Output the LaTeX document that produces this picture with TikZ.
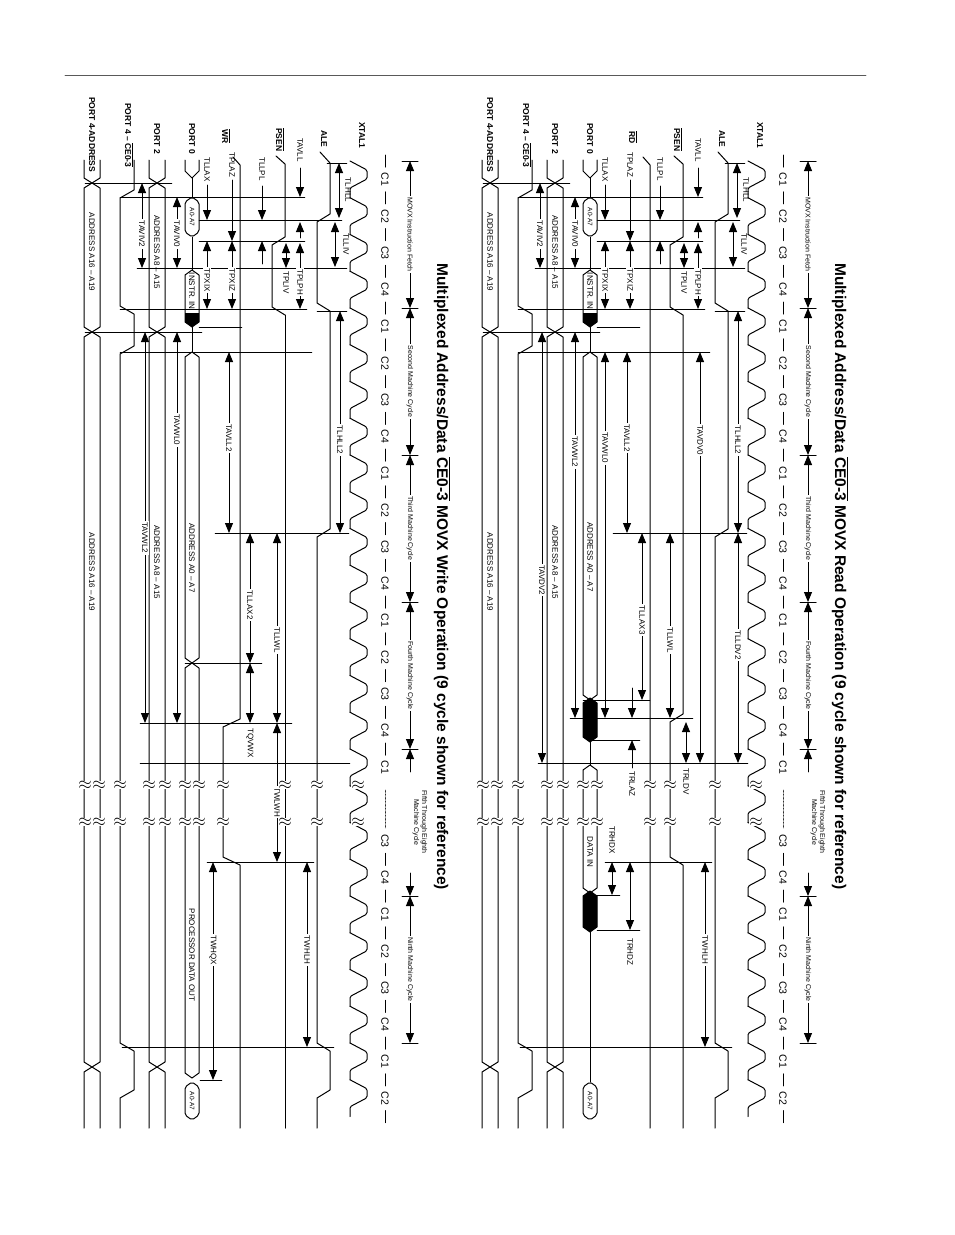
\documentclass[tikz,border=0pt]{standalone}
\usepackage{fontspec}
\setmainfont{Liberation Sans}
\usetikzlibrary{arrows.meta}
\newcommand\busseg[5][]{\draw[sig,#1] (#2,#4) -- ({#2-#3},{#4+5}) -- ({#2-#3},{#5-5}) -- (#2,#5) -- ({#2+#3},{#5-5}) -- ({#2+#3},{#4+5}) -- cycle;}
\newcommand\brkmark[1]{\node[fill=white,inner sep=0pt,font=\LARGE] at (#1,785) {$\approx$};\node[fill=white,inner sep=0pt,font=\LARGE] at (#1,822) {$\approx$};}
\newcommand\panelcommon[1]{%
 \node[ttl] at (840,263) {Multiplexed Address/Data $\overline{\mbox{CE0-3}}$ MOVX #1 Operation (9 cycle shown for reference)};
 \foreach \b in {161,308,455,602,749,896,1043} \draw[sig] (800,\b) -- (816,\b);
 \draw[dbl] (808,161) -- (808,308); \node[mlab,fill=white] at (808,234.5) {MOVX Instruction Fetch};
 \draw[dbl] (808,308) -- (808,455); \node[mlab,fill=white] at (808,381.5) {Second Machine Cycle};
 \draw[dbl] (808,455) -- (808,602); \node[mlab,fill=white] at (808,528.5) {Third Machine Cycle};
 \draw[dbl] (808,602) -- (808,749); \node[mlab,fill=white] at (808,675.5) {Fourth Machine Cycle};
 \draw[arrd] (808,772) -- (808,749); \draw[arrd] (808,873) -- (808,896);
 \node[mlab,align=center] at (818,822) {Fifth Through Eighth\\Machine Cycle};
 \draw[dbl] (808,896) -- (808,1043); \node[mlab,fill=white] at (808,969.5) {Ninth Machine Cycle};
 \foreach \k in {0,...,25}{\ifnum\k=17\else\pgfmathtruncatemacro\cc{mod(\k,4)+1}\pgfmathsetmacro\yy{161+36.75*(\k+0.5)}\node[clab] at (783,\yy) {C\cc};\fi}
 \foreach \k in {0,...,16,19,20,21,22,23,24,25,26}{\pgfmathsetmacro\yy{161+36.75*\k}\draw[sig] (783,\yy-6) -- (783,\yy+6);}
 \draw[densely dotted] (783,790) -- (783,828);
 \foreach \k in {0,...,25}{\pgfmathsetmacro\yy{161+36.75*\k}\draw[sig,rounded corners=1.5pt] (748,\yy) -- ++(17,9) -- ++(0,9) -- ++(-17,9) -- ++(0,9.75);}
 % signal labels
 \node[slab] at (760,122) {XTAL1};
 \node[slab] at (722,130) {ALE};
 \node[slab] at (678,128) {$\overline{\mbox{PSEN}}$};
 \node[slab] at (590,123) {PORT 0};
 \node[slab] at (555,123) {PORT 2};
 \node[slab] at (527,103) {PORT 4 -- $\overline{\mbox{CE0-3}}$};
 \node[slab] at (490,97) {PORT 4-ADDRESS};
 \node[tlabw] at (698,138) {TAVLL};
 \node[tlabw] at (660,157) {TLLPL};
 \node[tlabw] at (630,152) {TPLAZ};
 \node[tlabw] at (605,157) {TLLAX};
 % ALE
 \draw[sig] (718,152) -- (728,163) -- (728,214) -- (715,222) -- (715,303) -- (728,311) -- (728,529) -- (715,537) -- (715,1043) -- (728,1051) -- (728,1090) -- (715,1098) -- (715,1128);
 % PSEN
 \draw[sig] (674,156) -- (683,164) -- (683,237) -- (670,245) -- (670,307) -- (683,315);
 % CE
 \draw[sig] (532,160) -- (532,190) -- (518,198) -- (518,306) -- (532,314) -- (532,346) -- (518,354) -- (518,1043) -- (532,1051) -- (532,1090) -- (518,1098) -- (518,1128);
 % port4 addr
 \draw[sig] (482,160) -- (482,178) -- (490,183) -- (498,178) -- (498,160);
 \busseg{490}{8}{183}{332}\busseg{490}{8}{332}{1067}
 \draw[sig] (482,1128) -- (482,1072) -- (490,1067) -- (498,1072) -- (498,1128);
 \node[tlab] at (490,252) {ADDRESS A16 -- A19};
 \node[tlab] at (490,572) {ADDRESS A16 -- A19};
 % port2
 \draw[sig] (547,160) -- (547,178) -- (555,183) -- (563,178) -- (563,160);
 \busseg{555}{8}{183}{332}\busseg{555}{8}{332}{1067}
 \draw[sig] (547,1128) -- (547,1072) -- (555,1067) -- (563,1072) -- (563,1128);
 \node[tlab] at (555,252) {ADDRESS A8 -- A15};
 \node[tlab] at (555,562) {ADDRESS A8 -- A15};
 % port0 first part
 \draw[sig] (583,160) -- (583,171) -- (590,178) -- (597,171) -- (597,160);
 \draw[sig] (590,178) -- (590,197);
 \busseg[rounded corners=2pt]{590}{7}{197}{237}\node[tlab,font=\fontsize{6.5}{7}\selectfont] at (590,217) {A0-A7};
 \draw[sig] (590,237) -- (590,270);
 \busseg{590}{7}{270}{327}
 \fill (583,313) -- (597,313) -- (597,322) -- (590,327) -- (583,322) -- cycle;
 \node[tlab] at (590,291) {INSTR. IN};
 \draw[sig] (590,327) -- (590,352);
 % horizontal reference lines
 \draw (483,183) -- (570,183);
 \draw (518,197) -- (703,197);
 \draw (597,220) -- (740,220);
 \draw (597,241) -- (703,241);
 \draw (535,268) -- (745,268);
 \draw (518,309) -- (705,309);
 \draw (715,311) -- (745,311);
 \draw (597,327) -- (640,327);
 \draw (483,332) -- (600,332);
 \draw (518,352) -- (710,352);
 \draw (725,163) -- (745,163);
 \draw (613,533) -- (747,533);
 \draw (538,763) -- (748,763);
 \draw (605,862) -- (712,862);
 \draw (520,1047) -- (732,1047);
 % first cycle timing
 \draw[arrd] (698,168) -- (698,197);
 \draw[arrd] (698,238) -- (698,222);
 \draw[dbl] (737,163) -- (737,218); \node[tlab] at (746,190) {TLHLL};
 \draw[dbl] (733,222) -- (733,267); \node[tlab] at (744,244) {TLLIV};
 \draw[dbl] (698,243) -- (698,309); \node[tlab,fill=white] at (698,282) {TPLPH};
 \draw[dbl] (684,243) -- (684,268); \node[tlabw] at (684,271) {TPLIV};
 \draw[arrd] (660,186) -- (660,220); \draw[arrd] (660,264) -- (660,241);
 \draw[arrd] (630,180) -- (630,241);
 \draw[arrd] (605,185) -- (605,220);
 \draw[dbl] (605,241) -- (605,309); \node[tlab,fill=white] at (605,280) {TPXIX};
 \draw[dbl] (630,241) -- (630,309); \node[tlab,fill=white] at (630,280) {TPXIZ};
 \draw[dbl] (575,197) -- (575,268); \node[tlab,fill=white] at (575,234) {TAVIV0};
 \draw[dbl] (540,183) -- (540,268); \node[tlab,fill=white] at (540,234) {TAVIV2};
 % second cycle
 \draw[dbl] (738,311) -- (738,533); \node[tlab,fill=white] at (738,440) {TLHLL2};
 \draw[dbl] (627,352) -- (627,533); \node[tlab,fill=white] at (627,438) {TAVLL2};
 \draw[dbl] (705,862) -- (705,1047); \node[tlab,fill=white] at (705,950) {TWHLH};
}
\tikzset{
 sig/.style={line width=1pt},
 arrd/.style={line width=0.9pt,-{Triangle[length=10pt,width=8pt]}},
 dbl/.style={line width=0.9pt,{Triangle[length=10pt,width=8pt]}-{Triangle[length=10pt,width=8pt]}},
 tlab/.style={rotate=-90,font=\fontsize{8}{9}\selectfont,inner sep=1.5pt},
 tlabw/.style={tlab,anchor=west,inner sep=0pt},
 slab/.style={rotate=-90,anchor=west,font=\fontsize{8.5}{9}\selectfont\bfseries,inner sep=0pt},
 mlab/.style={rotate=-90,font=\fontsize{7}{8}\selectfont,inner sep=1.5pt},
 clab/.style={rotate=-90,font=\fontsize{10.5}{11}\selectfont,inner sep=0pt},
 ttl/.style={rotate=-90,anchor=west,font=\fontsize{15.5}{17}\selectfont\bfseries,inner sep=0pt},
}
\begin{document}
\begin{tikzpicture}[x=1pt,y=-1pt,line cap=round,line join=round]
\useasboundingbox[fill=white] (0,0) rectangle (954,1235);
\draw[gray!70!black,line width=0.8pt] (65,75) -- (866,75);
% ===== top panel: read =====
\begin{scope}
\panelcommon{Read}
\node[slab] at (633,131) {$\overline{\mbox{RD}}$};
\draw[sig] (643,157) -- (650,165) -- (650,1128);
\draw[sig] (683,315) -- (683,714) -- (670,722) -- (670,857) -- (683,865) -- (683,1128);
\busseg{590}{7}{352}{700}\node[tlab,anchor=west,inner sep=0pt] at (590,522) {ADDRESS A0 -- A7};
\busseg[fill=black]{590}{7}{698}{742}
\draw[sig] (590,742) -- (590,765);
\busseg{590}{7}{765}{893}\node[tlab] at (590,852) {DATA IN};
\busseg[fill=black]{590}{7}{891}{932}
\draw[sig] (590,932) -- (590,1082);
\busseg[rounded corners=2pt]{590}{7}{1082}{1120}\node[tlab,font=\fontsize{6.5}{7}\selectfont] at (590,1101) {A0-A7};
\draw[dbl] (700,352) -- (700,763); \node[tlab,fill=white] at (700,440) {TAVDV0};
\draw[dbl] (605,352) -- (605,718); \node[tlab,fill=white] at (605,448) {TAVWL0};
\draw[dbl] (575,332) -- (575,718); \node[tlab,fill=white] at (575,452) {TAVWL2};
\draw[dbl] (542,332) -- (542,763); \node[tlab,fill=white] at (542,580) {TAVDV2};
\draw (583,700) -- (650,700);
\draw (570,718) -- (693,718);
\draw (590,740) -- (640,740);
\draw[dbl] (642,533) -- (642,700); \node[tlab,fill=white] at (642,620) {TLLAX3};
\draw[dbl] (670,533) -- (670,718); \node[tlab,fill=white] at (670,640) {TLLWL};
\draw[dbl] (738,533) -- (738,763); \node[tlab,fill=white] at (738,645) {TLLDV2};
\draw[dbl] (686,722) -- (686,763); \node[tlabw] at (686,768) {TRLDV};
\draw[arrd] (632,688) -- (632,718); \draw[arrd] (632,768) -- (632,740); \node[tlabw] at (632,771) {TRLAZ};
\draw[dbl] (612,862) -- (612,895); \node[tlabw] at (612,826) {TRHDX};
\draw[dbl] (630,862) -- (630,930); \node[tlabw] at (630,938) {TRHDZ};
\draw (597,895) -- (620,895);
\draw (597,930) -- (640,930);
\foreach \xx in {483,497,518,547,563,583,597,650,670,715,756} {\brkmark{\xx}}
\end{scope}
% ===== bottom panel: write =====
\begin{scope}[xshift=-398pt]
\panelcommon{Write}
\node[slab] at (624,129) {$\overline{\mbox{WR}}$};
\draw[sig] (631,157) -- (638,165) -- (638,719) -- (621,727) -- (621,857) -- (638,865) -- (638,1128);
\draw[sig] (683,315) -- (683,1128);
\busseg{590}{7}{352}{663}\node[tlab,anchor=west,inner sep=0pt] at (590,523) {ADDRESS A0 -- A7};
\busseg{590}{7}{663}{1078}\node[tlab] at (590,955) {PROCESSOR DATA OUT};
\busseg[rounded corners=2pt]{590}{7}{1082}{1120}\node[tlab,font=\fontsize{6.5}{7}\selectfont] at (590,1101) {A0-A7};
\draw[dbl] (575,332) -- (575,723); \node[tlab,fill=white] at (575,430) {TAVWL0};
\draw[dbl] (543,332) -- (543,723); \node[tlab,fill=white] at (543,538) {TAVWL2};
\draw (583,663) -- (660,663);
\draw (538,723) -- (690,723);
\draw[dbl] (648,533) -- (648,663); \node[tlab,fill=white] at (648,605) {TLLAX2};
\draw[dbl] (648,663) -- (648,723); \node[tlabw] at (648,728) {TQVWX};
\draw[dbl] (675,533) -- (675,723); \node[tlab,fill=white] at (675,640) {TLLWL};
\draw[dbl] (675,723) -- (675,862); \node[tlab,fill=white] at (675,802) {TWLWH};
\draw[dbl] (611,862) -- (611,1080); \node[tlab,fill=white] at (611,950) {TWHQX};
\draw (598,1080) -- (620,1080);
\foreach \xx in {483,497,518,547,563,583,597,621,683,715,756} {\brkmark{\xx}}
\end{scope}
\end{tikzpicture}
\end{document}
